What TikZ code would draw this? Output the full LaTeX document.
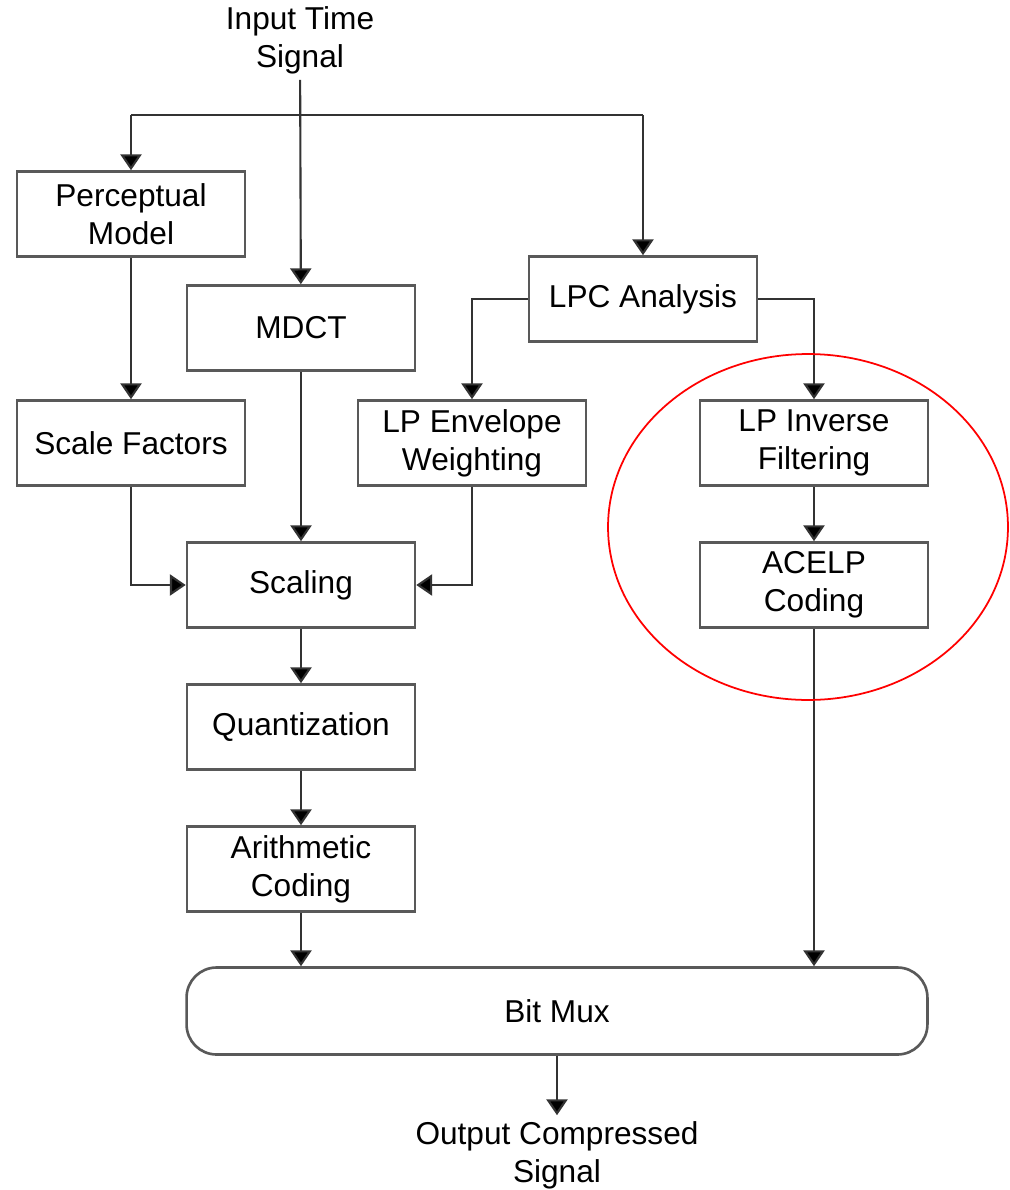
\documentclass[tikz,border=0pt]{standalone}
\usepackage{fontspec}
\setmainfont{Liberation Sans}
\usetikzlibrary{arrows.meta, positioning, calc, shapes}
\tikzset{
	every node/.style={
		align=center,
		font=\fontsize{18}{21.5}\selectfont,
	},
	block/.style={draw=black!65, line width=1.5pt, fill=white, minimum width=4.56cm, minimum height=1.7cm, inner sep=0pt},
	muxblock/.style={block, rounded corners=0.6cm, minimum width=14.82cm, minimum height=1.74cm},
	link/.style={draw=black!80, line width=1.2pt},
	flow/.style={link, -{Triangle[width=12pt,length=9pt,fill=black]}},
}

\begin{document}
\begin{tikzpicture}[x=0.02cm, y=-0.02cm]
		\useasboundingbox (0,0) rectangle (1010,1190);
		
		\node (input) at (300,40) {Input Time\\Signal};
		
		\node[block] (percep) at (131,214) {Perceptual\\Model};
		\node[block] (mdct) at (301,328) {MDCT};
		\node[block] (lpc) at (643,299) {LPC Analysis};
		
		\node[block] (scalef) at (131,443) {Scale Factors};
		\node[block] (envw) at (472,443) {LP Envelope\\Weighting};
		\node[block] (invf) at (814,443) {LP Inverse\\Filtering};
		
		\node[block] (scaling) at (301,585) {Scaling};
		\node[block] (acelp) at (814,585) {ACELP\\Coding};
		\node[block] (quant) at (301,727) {Quantization};
		\node[block] (arith) at (301,869) {Arithmetic\\Coding};
		
		\node[muxblock] (mux) at (557,1011) {Bit Mux};
		\node (output) at (557,1155) {Output Compressed\\Signal};
		
		\coordinate (split) at (300,115);
		
		% input branches
		\draw[flow] (input) -- (mdct);
		\draw[link] (split -| percep.north) -- (split -| lpc.north);
		\draw[flow] (split -| percep.north) -- (percep);
		\draw[flow] (split -| lpc.north) -- (lpc);
		
		% transform path
		\draw[flow] (percep) -- (scalef);
		\draw[flow] (scalef) |- (scaling);
		\draw[flow] (mdct) -- (scaling);
		\draw[flow] (lpc) -| (envw);
		\draw[flow] (envw) |- (scaling);
		\draw[flow] (scaling) -- (quant);
		\draw[flow] (quant) -- (arith);
		\draw[flow] (arith) -- (arith |- mux.north);
		
		% ACELP path
		\draw[flow] (lpc) -| (invf);
		\draw[flow] (invf) -- (acelp);
		\draw[flow] (acelp) -- (acelp |- mux.north);
		
		\draw[flow] (mux) -- (output);
		
		\draw[red, line width=1pt] (808,527) ellipse [x radius=4cm, y radius=3.46cm];
		
	\end{tikzpicture}
\end{document}
